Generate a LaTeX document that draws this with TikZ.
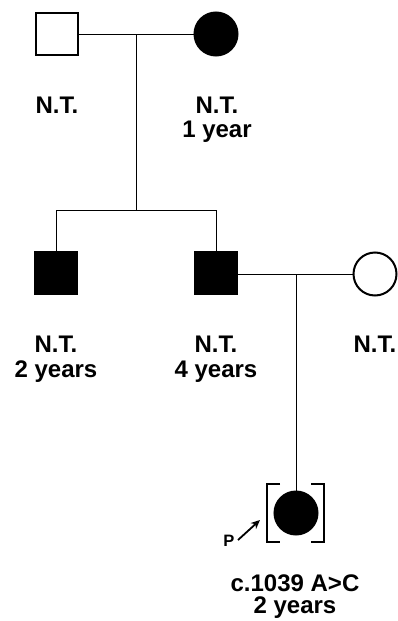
\documentclass[tikz,border=0pt]{standalone}
\usepackage{fontspec}
\setmainfont{Liberation Sans}
\usetikzlibrary{arrows.meta}
\begin{document}
\begin{tikzpicture}[x=1pt,y=-1pt,
  male/.style={draw=black,line width=2pt,minimum size=42pt,inner sep=0pt,shape=rectangle},
  female/.style={draw=black,line width=2pt,minimum size=43pt,inner sep=0pt,shape=circle},
  aff/.style={fill=black},
  unaff/.style={fill=white},
  conn/.style={line width=1pt,draw=black},
  lbl/.style={font=\fontsize{24}{25}\selectfont\bfseries,anchor=base,inner sep=0pt},
  plbl/.style={font=\fontsize{16.5}{17}\selectfont\bfseries,anchor=base,inner sep=0pt},
  brk/.style={line width=2.6pt,draw=black}]
\useasboundingbox (0,0) rectangle (398,621);
% generation I
\node[male,unaff] (f) at (57,34) {};
\node[female,aff] (m) at (216,34) {};
\coordinate (d1) at (136,34);
\coordinate (d1b) at (136,210);
\draw[conn] (f.east) -- (m.west);
\draw[conn] (d1) -- (d1b);
\node[lbl] (tf1) at (57,113) {N.T.};
\node[lbl] (tm1) at (217,113) {N.T.};
\node[lbl] (tm2) at (217,137) {1 year};
% generation II
\node[male,aff] (b1) at (56,273) {};
\node[male,aff] (b2) at (216,273) {};
\node[female,unaff] (w) at (375,274) {};
\coordinate (s1) at (56,210);
\coordinate (s2) at (216,210);
\draw[conn] (s1) -- (s2);
\draw[conn] (s1) -- (b1.north);
\draw[conn] (s2) -- (b2.north);
\coordinate (m2) at (b2.east |- w.west);
\draw[conn] (m2) -- (w.west);
\coordinate (d2) at (296,274);
\node[lbl] (tb1a) at (56,352) {N.T.};
\node[lbl] (tb1b) at (56,377) {2 years};
\node[lbl] (tb2a) at (216,352) {N.T.};
\node[lbl] (tb2b) at (216,377) {4 years};
\node[lbl] (tw) at (375,352) {N.T.};
% generation III
\node[female,aff] (p) at (296,513) {};
\draw[conn] (d2) -- (p.north);
\draw[brk] (280,484) -- (267,484) -- (267,542) -- (280,542);
\draw[brk] (311,484) -- (324,484) -- (324,542) -- (311,542);
\node[plbl] (pl) at (229,546) {P};
\coordinate (pa1) at (238,540);
\coordinate (pa2) at (260,520);
\draw[line width=1.8pt,-{Stealth[length=9pt,width=8pt]}] (pa1) -- (pa2);
\node[lbl] (tp1) at (295,591) {c.1039 A>C};
\node[lbl] (tp2) at (295,613) {2 years};
\end{tikzpicture}
\end{document}
